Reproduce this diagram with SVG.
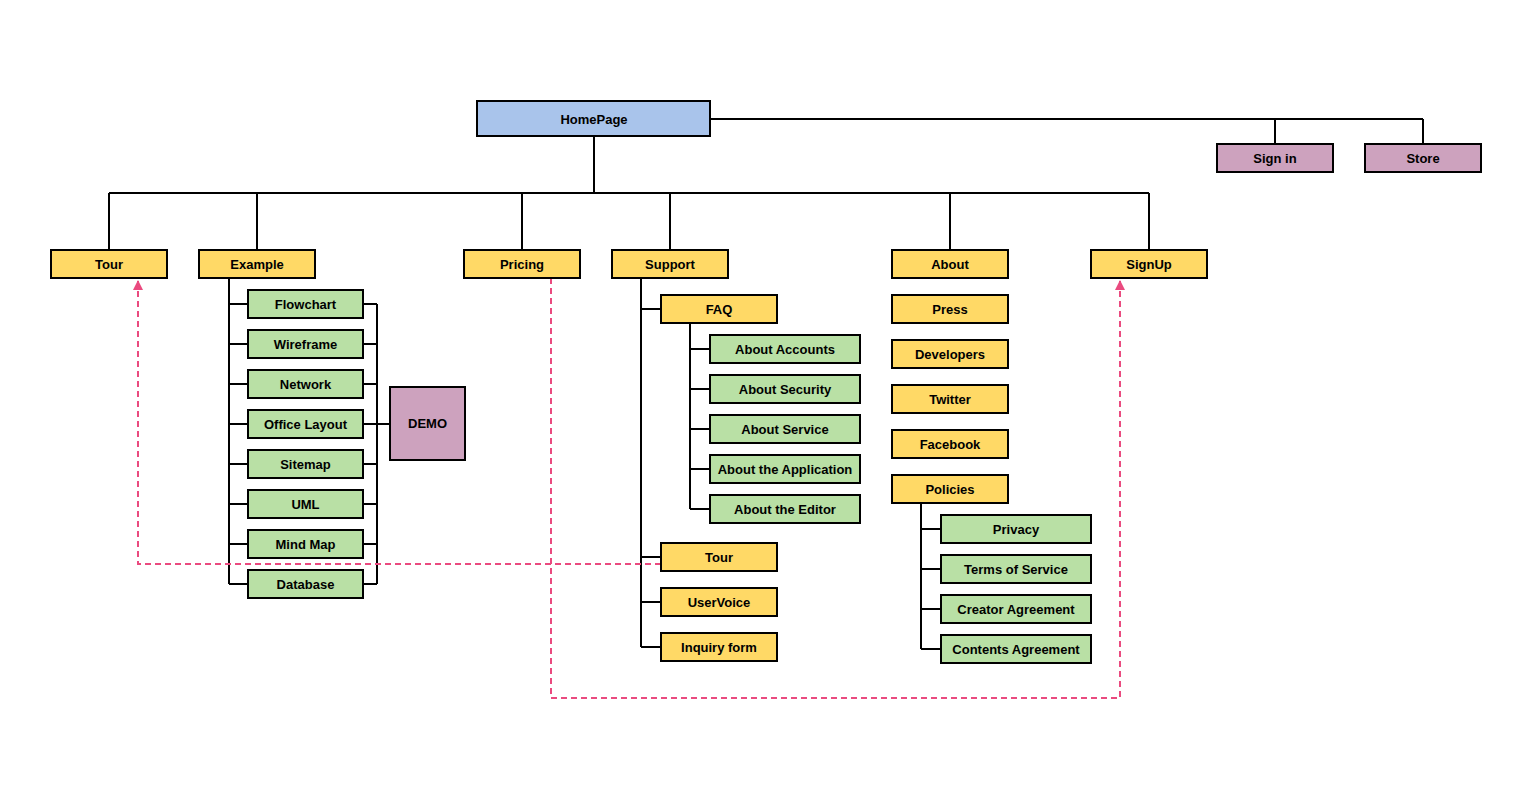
<svg xmlns="http://www.w3.org/2000/svg" width="1532" height="800" viewBox="0 0 1532 800">
<style>
.n rect{stroke:#000;stroke-width:2}
.b rect{fill:#a9c4eb}
.y rect{fill:#ffd966}
.g rect{fill:#b9e0a5}
.p rect{fill:#cda2be}
.n text{font-family:"Liberation Sans",Arial,sans-serif;font-weight:bold;font-size:13px;text-anchor:middle;dominant-baseline:central;fill:#000}
.c path{fill:none;stroke:#000;stroke-width:2}
.d path{fill:none;stroke:#ea4a7f;stroke-width:2;stroke-dasharray:6 4}
</style>
<defs>
<marker id="ah" markerWidth="12" markerHeight="12" refX="10" refY="6" orient="auto" markerUnits="userSpaceOnUse">
<path d="M0,1 L10,6 L0,11 Z" fill="#ea4a7f"/>
</marker>
</defs>
<rect width="1532" height="800" fill="#fff"/>
<g id="connectors" class="c">
<path d="M710,119 H1423 M1275,119 V144 M1423,119 V144"/>
<path d="M594,136 V193 M109,193 H1149 M109,193 V250 M257,193 V250 M522,193 V250 M670,193 V250 M950,193 V250 M1149,193 V250"/>
<path d="M229,278 V584 M229,304 H248 M229,344 H248 M229,384 H248 M229,424 H248 M229,464 H248 M229,504 H248 M229,544 H248 M229,584 H248"/>
<path d="M363,304 H377 M363,344 H377 M363,384 H377 M363,424 H390 M363,464 H377 M363,504 H377 M363,544 H377 M363,584 H377 M377,304 V584"/>
<path d="M641,278 V647 M641,309 H661 M641,557 H661 M641,602 H661 M641,647 H661"/>
<path d="M690,323 V509 M690,349 H710 M690,389 H710 M690,429 H710 M690,469 H710 M690,509 H710"/>
<path d="M921,503 V649 M921,529 H941 M921,569 H941 M921,609 H941 M921,649 H941"/>
</g>
<g id="dashed" class="d">
<path d="M661,564 H138 V280" marker-end="url(#ah)"/>
<path d="M551,278 V698 H1120 V280" marker-end="url(#ah)"/>
</g>
<g id="homepage" class="n b"><rect x="477" y="101" width="233" height="35"/><text x="594" y="119">HomePage</text></g>
<g id="signin" class="n p"><rect x="1217" y="144" width="116" height="28"/><text x="1275" y="158">Sign in</text></g>
<g id="store" class="n p"><rect x="1365" y="144" width="116" height="28"/><text x="1423" y="158">Store</text></g>
<g id="tour" class="n y"><rect x="51" y="250" width="116" height="28"/><text x="109" y="264">Tour</text></g>
<g id="example" class="n y"><rect x="199" y="250" width="116" height="28"/><text x="257" y="264">Example</text></g>
<g id="pricing" class="n y"><rect x="464" y="250" width="116" height="28"/><text x="522" y="264">Pricing</text></g>
<g id="support" class="n y"><rect x="612" y="250" width="116" height="28"/><text x="670" y="264">Support</text></g>
<g id="about" class="n y"><rect x="892" y="250" width="116" height="28"/><text x="950" y="264">About</text></g>
<g id="signup" class="n y"><rect x="1091" y="250" width="116" height="28"/><text x="1149" y="264">SignUp</text></g>
<g id="flowchart" class="n g"><rect x="248" y="290" width="115" height="28"/><text x="305.5" y="304">Flowchart</text></g>
<g id="wireframe" class="n g"><rect x="248" y="330" width="115" height="28"/><text x="305.5" y="344">Wireframe</text></g>
<g id="network" class="n g"><rect x="248" y="370" width="115" height="28"/><text x="305.5" y="384">Network</text></g>
<g id="officelayout" class="n g"><rect x="248" y="410" width="115" height="28"/><text x="305.5" y="424">Office Layout</text></g>
<g id="sitemap" class="n g"><rect x="248" y="450" width="115" height="28"/><text x="305.5" y="464">Sitemap</text></g>
<g id="uml" class="n g"><rect x="248" y="490" width="115" height="28"/><text x="305.5" y="504">UML</text></g>
<g id="mindmap" class="n g"><rect x="248" y="530" width="115" height="28"/><text x="305.5" y="544">Mind Map</text></g>
<g id="database" class="n g"><rect x="248" y="570" width="115" height="28"/><text x="305.5" y="584">Database</text></g>
<g id="demo" class="n p"><rect x="390" y="387" width="75" height="73"/><text x="427.5" y="423">DEMO</text></g>
<g id="faq" class="n y"><rect x="661" y="295" width="116" height="28"/><text x="719" y="309">FAQ</text></g>
<g id="aboutaccounts" class="n g"><rect x="710" y="335" width="150" height="28"/><text x="785" y="349">About Accounts</text></g>
<g id="aboutsecurity" class="n g"><rect x="710" y="375" width="150" height="28"/><text x="785" y="389">About Security</text></g>
<g id="aboutservice" class="n g"><rect x="710" y="415" width="150" height="28"/><text x="785" y="429">About Service</text></g>
<g id="aboutapplication" class="n g"><rect x="710" y="455" width="150" height="28"/><text x="785" y="469">About the Application</text></g>
<g id="abouteditor" class="n g"><rect x="710" y="495" width="150" height="28"/><text x="785" y="509">About the Editor</text></g>
<g id="supporttour" class="n y"><rect x="661" y="543" width="116" height="28"/><text x="719" y="557">Tour</text></g>
<g id="uservoice" class="n y"><rect x="661" y="588" width="116" height="28"/><text x="719" y="602">UserVoice</text></g>
<g id="inquiry" class="n y"><rect x="661" y="633" width="116" height="28"/><text x="719" y="647">Inquiry form</text></g>
<g id="press" class="n y"><rect x="892" y="295" width="116" height="28"/><text x="950" y="309">Press</text></g>
<g id="developers" class="n y"><rect x="892" y="340" width="116" height="28"/><text x="950" y="354">Developers</text></g>
<g id="twitter" class="n y"><rect x="892" y="385" width="116" height="28"/><text x="950" y="399">Twitter</text></g>
<g id="facebook" class="n y"><rect x="892" y="430" width="116" height="28"/><text x="950" y="444">Facebook</text></g>
<g id="policies" class="n y"><rect x="892" y="475" width="116" height="28"/><text x="950" y="489">Policies</text></g>
<g id="privacy" class="n g"><rect x="941" y="515" width="150" height="28"/><text x="1016" y="529">Privacy</text></g>
<g id="terms" class="n g"><rect x="941" y="555" width="150" height="28"/><text x="1016" y="569">Terms of Service</text></g>
<g id="creator" class="n g"><rect x="941" y="595" width="150" height="28"/><text x="1016" y="609">Creator Agreement</text></g>
<g id="contents" class="n g"><rect x="941" y="635" width="150" height="28"/><text x="1016" y="649">Contents Agreement</text></g>
</svg>
